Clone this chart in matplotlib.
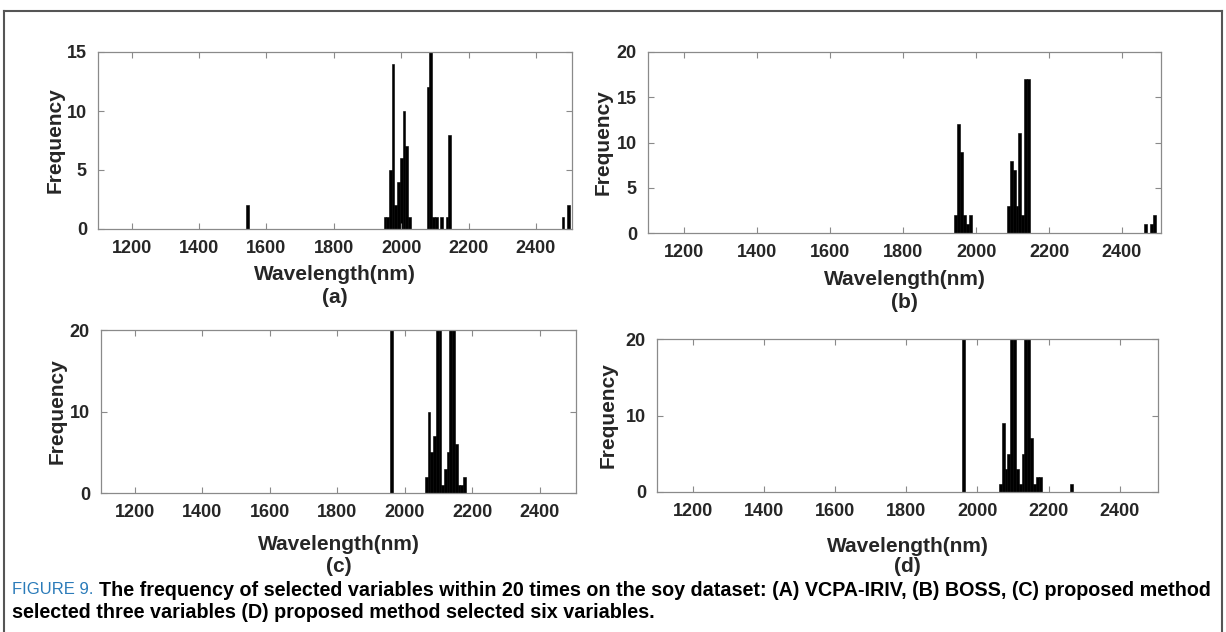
import matplotlib
matplotlib.use("Agg")
import matplotlib.pyplot as plt
from matplotlib import font_manager
from matplotlib.lines import Line2D

# ---------------- data ----------------
wl_a = [1544, 1952, 1960, 1968, 1976, 1984, 1992, 2000, 2008, 2016, 2024,
        2080, 2088, 2096, 2104, 2120, 2136, 2144, 2480, 2496]
freq_a = [2, 1, 1, 5, 14, 2, 4, 6, 10, 7, 1,
          12, 15, 1, 1, 1, 1, 8, 1, 2]

wl_b = [1944, 1952, 1960, 1968, 1976, 1984,
        2088, 2096, 2104, 2112, 2120, 2128, 2136, 2144, 2464, 2480, 2488]
freq_b = [2, 12, 9, 2, 1, 2,
          3, 8, 7, 3, 11, 2, 17, 17, 1, 1, 2]

wl_c = [1960, 2064, 2072, 2080, 2088, 2096, 2104, 2112, 2120, 2128, 2136,
        2144, 2152, 2160, 2168, 2176]
freq_c = [20, 2, 10, 5, 7, 20, 20, 1, 3, 5, 20,
          20, 6, 1, 1, 2]

wl_d = [1960, 2064, 2072, 2080, 2088, 2096, 2104, 2112, 2120, 2128, 2136,
        2144, 2152, 2160, 2168, 2176, 2264]
freq_d = [20, 1, 9, 3, 5, 20, 20, 3, 1, 5, 20,
          20, 7, 1, 2, 2, 1]

x_ticks = [1200, 1400, 1600, 1800, 2000, 2200, 2400]
panel_labels = ["(a)", "(b)", "(c)", "(d)"]
x_label = "Wavelength(nm)"
y_label = "Frequency"
caption_head = "FIGURE 9."
caption_line1 = "The frequency of selected variables within 20 times on the soy dataset: (A) VCPA-IRIV, (B) BOSS, (C) proposed method"
caption_line2 = "selected three variables (D) proposed method selected six variables."

# ---------------- figure ----------------
W, H = 1226, 632
fig = plt.figure(figsize=(W / 100, H / 100), dpi=100)
fig.patch.set_facecolor("white")

names = {f.name for f in font_manager.fontManager.ttflist}
base_font = "Liberation Sans" if "Liberation Sans" in names else "DejaVu Sans"
narrow_font = "Liberation Sans Narrow" if "Liberation Sans Narrow" in names else base_font
plt.rcParams["font.family"] = [base_font, "DejaVu Sans"]


def px_axes(x0, y0, x1, y1):
    return fig.add_axes([x0 / W, 1 - y1 / H, (x1 - x0) / W, (y1 - y0) / H])


def fy(y):
    return 1 - y / H


# (axes, wl, freq, ymax, yticks, xlabel_y, panel_label_y, ylabel_x)
panels = [
    (px_axes(98, 52, 572, 229), wl_a, freq_a, 15, [0, 5, 10, 15], 275, 297, 55),
    (px_axes(648, 52, 1161, 233), wl_b, freq_b, 20, [0, 5, 10, 15, 20], 280, 302, 603),
    (px_axes(101, 330, 576, 493), wl_c, freq_c, 20, [0, 10, 20], 544, 567, 57),
    (px_axes(657, 339, 1158, 492), wl_d, freq_d, 20, [0, 10, 20], 547, 567, 608),
]

spine_col = "#8a8a8a"
txt_col = "#262626"

for i, (ax, wl, fq, ymax, yt, xly, ply, ylx) in enumerate(panels):
    ax.bar(wl, fq, width=8, color="black", edgecolor="black", linewidth=0.4)
    ax.set_xlim(1100, 2507)
    ax.set_ylim(0, ymax)
    ax.set_xticks(x_ticks)
    ax.set_yticks(yt)
    ax.tick_params(direction="in", top=True, right=True, length=4, width=0.8,
                   color=spine_col, labelcolor=txt_col, labelsize=13, pad=8)
    for lab in ax.get_xticklabels() + ax.get_yticklabels():
        lab.set_fontweight("bold")
    for s in ax.spines.values():
        s.set_color(spine_col)
        s.set_linewidth(0.9)
    pos = ax.get_position()
    cx = (pos.x0 + pos.x1) / 2
    cy = (pos.y0 + pos.y1) / 2
    fig.text(cx, fy(xly), x_label, fontsize=15, fontweight="bold", color=txt_col,
             ha="center", va="center")
    fig.text(cx, fy(ply), panel_labels[i], fontsize=15, fontweight="bold", color=txt_col,
             ha="center", va="center")
    fig.text(ylx / W, cy, y_label, fontsize=15, fontweight="bold", color=txt_col,
             ha="center", va="center", rotation=90)

# outer frame
frame_col = "#555555"
fig.add_artist(Line2D([3.5 / W, 3.5 / W], [0, fy(10.5)], transform=fig.transFigure,
                      color=frame_col, lw=1.5))
fig.add_artist(Line2D([3.5 / W, 1221.5 / W], [fy(10.5), fy(10.5)],
                      transform=fig.transFigure, color=frame_col, lw=1.5))
fig.add_artist(Line2D([1221.5 / W, 1221.5 / W], [0, fy(10.5)], transform=fig.transFigure,
                      color=frame_col, lw=1.5))

# caption
renderer = fig.canvas.get_renderer()
cap_size = 12
x0 = 12
t_head = fig.text(x0 / W, fy(590), caption_head, color="#2b7bb9", fontsize=cap_size,
                  family=narrow_font, va="center", ha="left")
bb = t_head.get_window_extent(renderer)
x1 = bb.x1 + 6
t1 = fig.text(x1 / W, fy(590), caption_line1, color="black", fontsize=cap_size,
              family=narrow_font, fontweight="bold", va="center", ha="left")
bb1 = t1.get_window_extent(renderer)
target = 1211
scale = (target - x1) / (bb1.x1 - x1)
t1.set_fontsize(cap_size * scale)
fig.text(x0 / W, fy(612), caption_line2, color="black", fontsize=cap_size * scale,
         family=narrow_font, fontweight="bold", va="center", ha="left")

fig.savefig("out.png", dpi=100, facecolor="white")
